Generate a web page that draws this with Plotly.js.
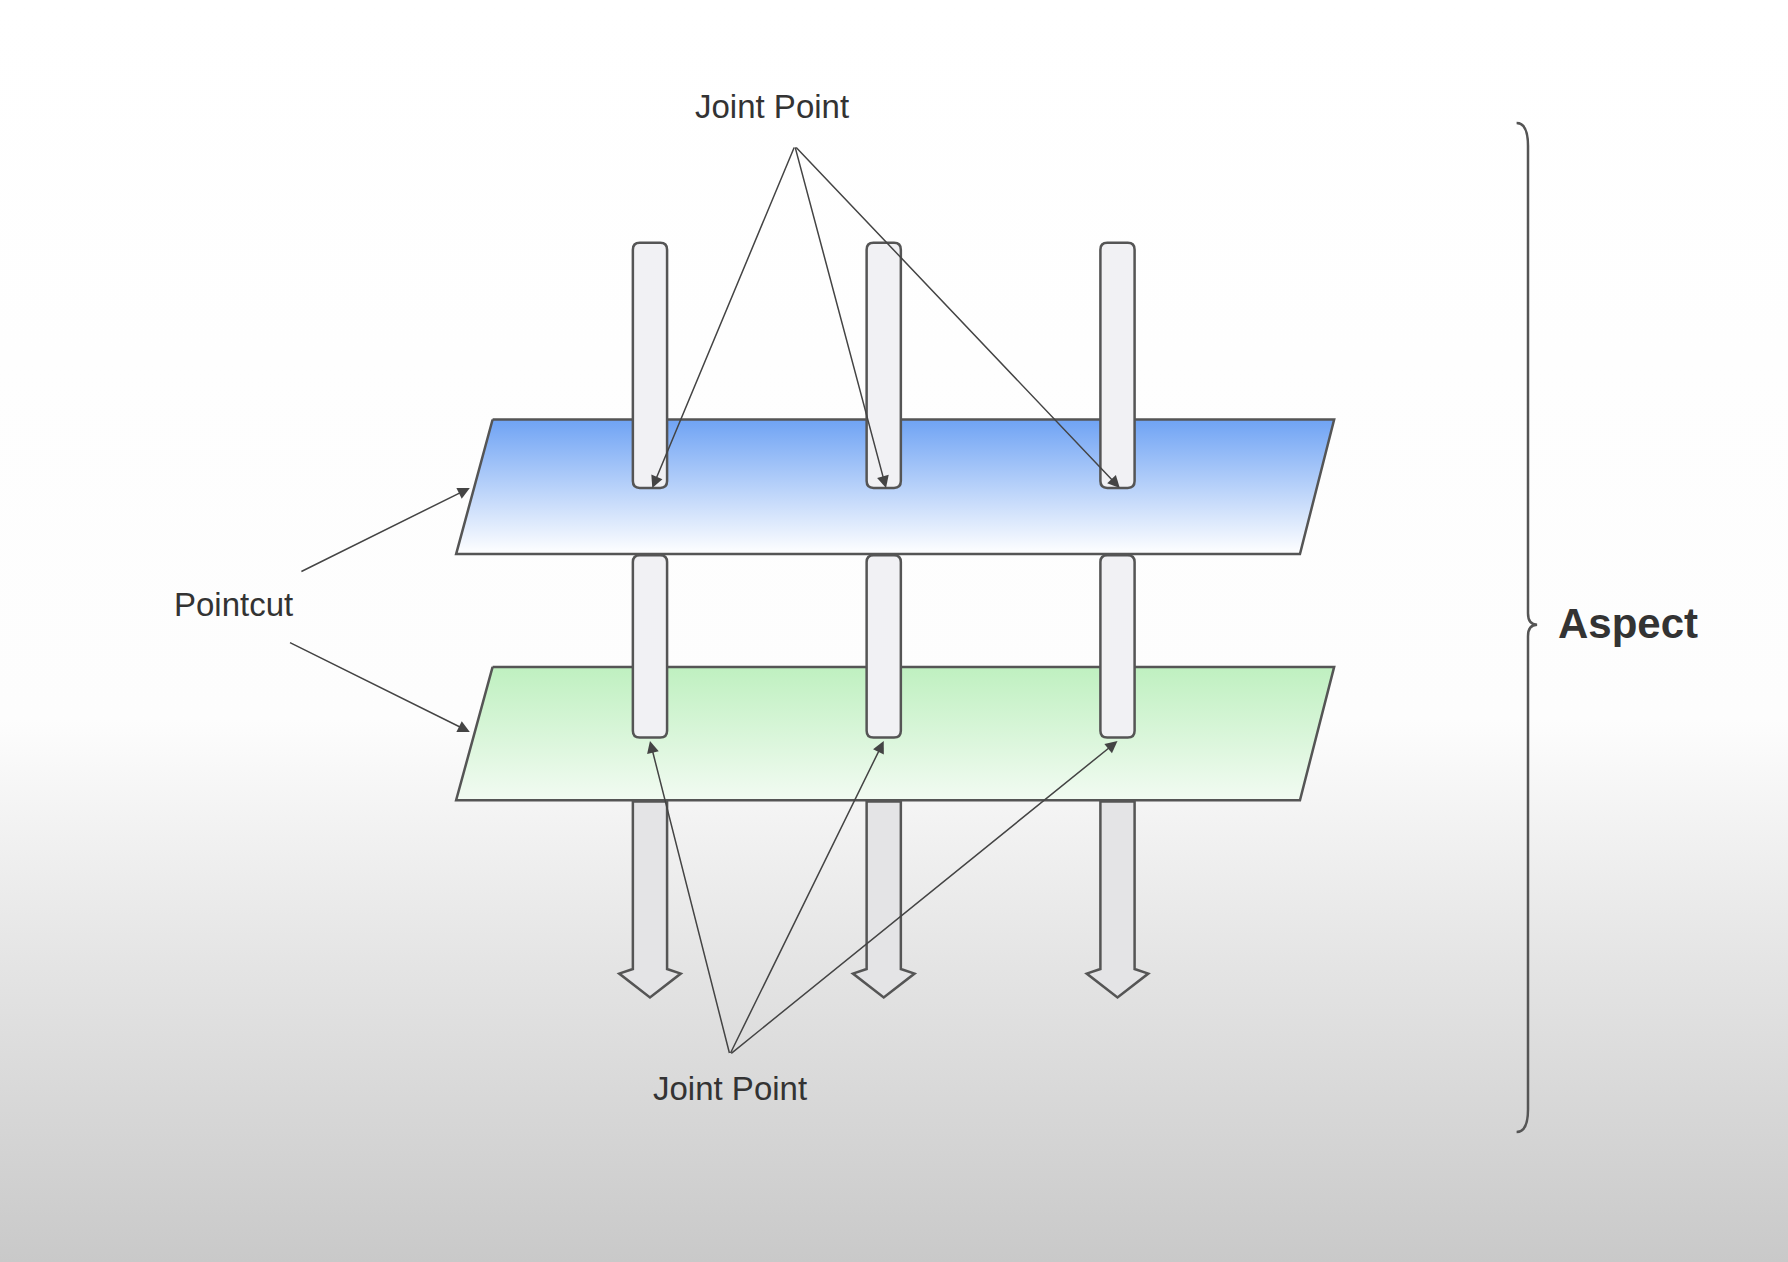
<!DOCTYPE html>
<html>
<head>
<meta charset="utf-8">
<script src="https://cdn.plot.ly/plotly-3.0.1.min.js"></script>
<style>
  html, body { margin: 0; padding: 0; }
  body {
    width: 1788px; height: 1262px; overflow: hidden;
    background: linear-gradient(to bottom, #ffffff 0%, #fdfdfd 57%, #e6e6e6 75%, #c9c9c9 100%);
  }
  #chart { width: 1788px; height: 1262px; }
</style>
</head>
<body>
<div id="chart"></div>
<script>
  // Diagram geometry in reference-image units (1568 x 1107)
  var columnX = [570, 775, 980];
  var pillarHalfWidth = 15;
  var topPillar = [213, 428];
  var midPillar = [487, 647];
  var arrowPillar = [703, 875];
  var bandX = [432, 1170, 1140, 400];
  var blueBandY = [368, 486];
  var greenBandY = [585, 702];

  var topLabel = { text: 'Joint Point', x: 677, y: 93, hubX: 697, hubY: 128 };
  var bottomLabel = { text: 'Joint Point', x: 640, y: 955, hubX: 640, hubY: 925 };
  var topTargetsY = 428;
  var bottomTargetsY = 650;
  var pointcutLabel = { text: 'Pointcut', x: 205, y: 530 };
  var pointcutStarts = [[263, 502], [253, 563]];
  var pointcutEnds = [[412, 428], [412, 642]];
  var braceX = [1330, 1340, 1348];
  var braceY = [108, 548, 993];
  var aspectLabel = { text: 'Aspect', x: 1428, y: 547 };

  var STROKE = '#555555';

  function roundRect(x0, y0, x1, y1, r) {
    return 'M' + (x0 + r) + ',' + y0 + ' L' + (x1 - r) + ',' + y0 +
      ' Q' + x1 + ',' + y0 + ' ' + x1 + ',' + (y0 + r) +
      ' L' + x1 + ',' + (y1 - r) + ' Q' + x1 + ',' + y1 + ' ' + (x1 - r) + ',' + y1 +
      ' L' + (x0 + r) + ',' + y1 + ' Q' + x0 + ',' + y1 + ' ' + x0 + ',' + (y1 - r) +
      ' L' + x0 + ',' + (y0 + r) + ' Q' + x0 + ',' + y0 + ' ' + (x0 + r) + ',' + y0 + ' Z';
  }

  function arrowPath(cx, y0, y1, hw) {
    var headY = y1 - 25, headW = 27;
    return 'M' + (cx - hw) + ',' + y0 + ' L' + (cx + hw) + ',' + y0 +
      ' L' + (cx + hw) + ',' + headY + ' L' + (cx + headW) + ',' + (headY + 4) +
      ' L' + cx + ',' + y1 + ' L' + (cx - headW) + ',' + (headY + 4) +
      ' L' + (cx - hw) + ',' + headY + ' Z';
  }

  function band(yr, top, bottom) {
    return {
      x: [bandX[0], bandX[1], bandX[2], bandX[3], bandX[0]],
      y: [yr[0], yr[0], yr[1], yr[1], yr[0]],
      mode: 'lines', fill: 'toself', hoverinfo: 'skip',
      line: { color: STROKE, width: 2.5 },
      fillgradient: { type: 'vertical', colorscale: [[0, top], [1, bottom]] }
    };
  }

  var traces = [
    band(blueBandY, '#ffffff', '#6fa3f4'),
    band(greenBandY, '#f2fbf2', '#bff0c0')
  ];

  var shapes = [];
  columnX.forEach(function (cx) {
    [topPillar, midPillar].forEach(function (p) {
      shapes.push({ type: 'path', xref: 'x', yref: 'y',
        path: roundRect(cx - pillarHalfWidth, p[0], cx + pillarHalfWidth, p[1], 6),
        fillcolor: '#f1f1f4', line: { color: STROKE, width: 2.5 } });
    });
    shapes.push({ type: 'path', xref: 'x', yref: 'y',
      path: arrowPath(cx, arrowPillar[0], arrowPillar[1], pillarHalfWidth),
      fillcolor: '#e4e4e6', line: { color: STROKE, width: 2.5 } });
  });
  shapes.push({ type: 'path', xref: 'x', yref: 'y',
    path: 'M' + braceX[0] + ',' + braceY[0] + ' Q' + braceX[1] + ',' + braceY[0] + ' ' + braceX[1] + ',' + (braceY[0] + 20) +
      ' L' + braceX[1] + ',' + (braceY[1] - 10) + ' Q' + braceX[1] + ',' + braceY[1] + ' ' + braceX[2] + ',' + braceY[1] +
      ' Q' + braceX[1] + ',' + braceY[1] + ' ' + braceX[1] + ',' + (braceY[1] + 10) +
      ' L' + braceX[1] + ',' + (braceY[2] - 20) + ' Q' + braceX[1] + ',' + braceY[2] + ' ' + braceX[0] + ',' + braceY[2],
    line: { color: STROKE, width: 2.5 } });

  var annotations = [];
  function arrowAnn(fx, fy, tx, ty) {
    annotations.push({ x: tx, y: ty, ax: fx, ay: fy, xref: 'x', yref: 'y', axref: 'x', ayref: 'y',
      text: '', showarrow: true, arrowhead: 2, arrowsize: 1.6, arrowwidth: 1.5, arrowcolor: '#444' });
  }
  columnX.forEach(function (cx) {
    arrowAnn(topLabel.hubX, topLabel.hubY, cx + 2, topTargetsY);
    arrowAnn(bottomLabel.hubX, bottomLabel.hubY, cx, bottomTargetsY);
  });
  pointcutStarts.forEach(function (s, i) { arrowAnn(s[0], s[1], pointcutEnds[i][0], pointcutEnds[i][1]); });

  [topLabel, bottomLabel, pointcutLabel].forEach(function (l) {
    annotations.push({ x: l.x, y: l.y, xref: 'x', yref: 'y', text: l.text, showarrow: false,
      font: { family: 'Liberation Sans, Arial, sans-serif', size: 33, color: '#333' } });
  });
  annotations.push({ x: aspectLabel.x, y: aspectLabel.y, xref: 'x', yref: 'y', text: '<b>' + aspectLabel.text + '</b>',
    showarrow: false, font: { family: 'Liberation Sans, Arial, sans-serif', size: 42, color: '#333' } });

  var layout = {
    width: 1788, height: 1262,
    margin: { t: 0, r: 0, b: 0, l: 0 },
    paper_bgcolor: 'rgba(0,0,0,0)', plot_bgcolor: 'rgba(0,0,0,0)',
    showlegend: false,
    xaxis: { range: [0, 1568], visible: false, fixedrange: true },
    yaxis: { range: [1107, 0], visible: false, fixedrange: true },
    shapes: shapes, annotations: annotations
  };

  Plotly.newPlot('chart', traces, layout, { displayModeBar: false, staticPlot: true });
</script>
</body>
</html>
